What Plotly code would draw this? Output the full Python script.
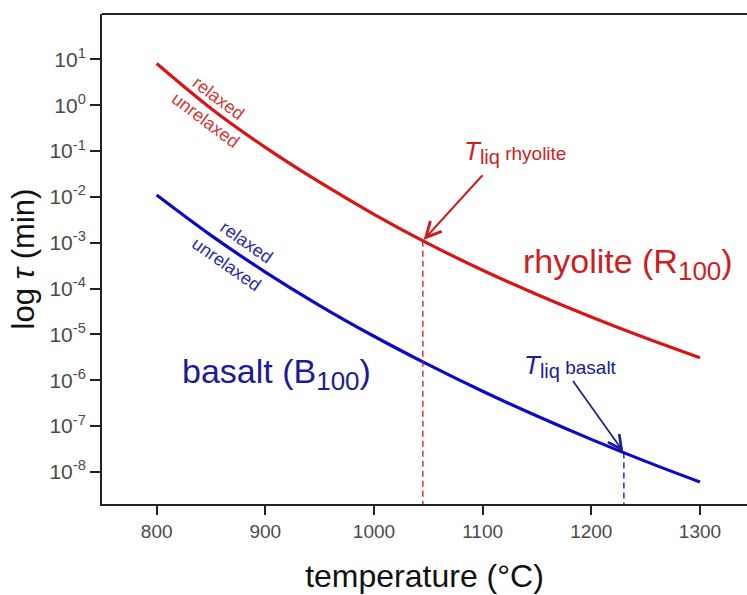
import numpy as np
import plotly.graph_objects as go

# ---- data ----
temperature = [800, 850, 900, 950, 1000, 1050, 1100, 1150, 1200, 1250, 1300]
log_tau_rhyolite = [0.91, -0.07, -0.92, -1.68, -2.38, -3.02, -3.60, -4.13, -4.62, -5.08, -5.51]
log_tau_basalt = [-1.96, -2.84, -3.64, -4.37, -5.04, -5.66, -6.24, -6.78, -7.29, -7.77, -8.22]
t_liq_rhyolite = 1045
t_liq_basalt = 1230
y_tickvals_exp = [1, 0, -1, -2, -3, -4, -5, -6, -7, -8]
x_tickvals = [800, 900, 1000, 1100, 1200, 1300]

RED = "#d81414"
BLUE = "#0a0ac8"
RED_TXT = "#cc1f1f"
BLUE_TXT = "#1c1c96"
FONT = "Liberation Sans, Arial"

W, H = 747, 595
L, T, B, R = 102, 14, 91, 0
PW, PH = W - L - R, H - T - B


def px(x):
    return (x - L) / PW


def py(y):
    return (H - B - y) / PH


tau_r = [10 ** v for v in log_tau_rhyolite]
tau_b = [10 ** v for v in log_tau_basalt]
y_bottom_log = -8.70
y_top_log = 1.99

lr_liq = float(np.interp(t_liq_rhyolite, temperature, log_tau_rhyolite))
lb_liq = float(np.interp(t_liq_basalt, temperature, log_tau_basalt))

fig = go.Figure()
fig.add_trace(go.Scatter(x=temperature, y=tau_r, mode="lines",
                         line=dict(color=RED, width=3.2, shape="spline"),
                         showlegend=False, hoverinfo="skip"))
fig.add_trace(go.Scatter(x=temperature, y=tau_b, mode="lines",
                         line=dict(color=BLUE, width=3.2, shape="spline"),
                         showlegend=False, hoverinfo="skip"))
# dashed liquidus drop lines
fig.add_trace(go.Scatter(x=[t_liq_rhyolite, t_liq_rhyolite], y=[10 ** lr_liq, 10 ** y_bottom_log],
                         mode="lines", line=dict(color=RED, width=1.3, dash="6px,4px"),
                         showlegend=False, hoverinfo="skip"))
fig.add_trace(go.Scatter(x=[t_liq_basalt, t_liq_basalt], y=[10 ** lb_liq, 10 ** y_bottom_log],
                         mode="lines", line=dict(color=BLUE, width=1.3, dash="6px,4px"),
                         showlegend=False, hoverinfo="skip"))

ann = []
# arrows
ann.append(dict(x=t_liq_rhyolite, y=lr_liq, xref="x", yref="y", text="", showarrow=True,
                arrowhead=5, arrowsize=1.5, arrowwidth=2, arrowcolor=RED_TXT,
                ax=61, ay=-67, standoff=1))
ann.append(dict(x=t_liq_basalt, y=lb_liq, xref="x", yref="y", text="", showarrow=True,
                arrowhead=5, arrowsize=1.6, arrowwidth=1.7, arrowcolor=BLUE_TXT,
                ax=-52, ay=-73, standoff=1))


def tliq(name):
    return ('<i><span style="font-size:26px">T</span></i>'
            '<sub><span style="font-size:20px">liq</span></sub> ' + name)


# Tliq labels
ann.append(dict(x=px(515), y=py(152), xref="paper", yref="paper", showarrow=False,
                xanchor="center", yanchor="middle", text=tliq("rhyolite"),
                font=dict(family=FONT, size=19, color=RED_TXT)))
ann.append(dict(x=px(570), y=py(366), xref="paper", yref="paper", showarrow=False,
                xanchor="center", yanchor="middle", text=tliq("basalt"),
                font=dict(family=FONT, size=19, color=BLUE_TXT)))
# big series labels
ann.append(dict(x=px(628), y=py(264), xref="paper", yref="paper", showarrow=False,
                xanchor="center", yanchor="middle",
                text='rhyolite (R<sub><span style="font-size:26px">100</span></sub>)',
                font=dict(family=FONT, size=34, color=RED_TXT)))
ann.append(dict(x=px(276), y=py(374), xref="paper", yref="paper", showarrow=False,
                xanchor="center", yanchor="middle",
                text='basalt (B<sub><span style="font-size:26px">100</span></sub>)',
                font=dict(family=FONT, size=34, color=BLUE_TXT)))
# relaxed / unrelaxed
for txt, cx, cy, ang, col in [("relaxed", 218, 98, 37, "#d23a3a"),
                              ("unrelaxed", 205, 120, 37, "#d23a3a"),
                              ("relaxed", 246, 242, 35, "#2a2aa8"),
                              ("unrelaxed", 226, 264, 35, "#2a2aa8")]:
    ann.append(dict(x=px(cx), y=py(cy), xref="paper", yref="paper", showarrow=False,
                    xanchor="center", yanchor="middle",
                    text=txt, textangle=ang,
                    font=dict(family=FONT, size=18, color=col)))

fig.update_layout(
    width=W, height=H,
    margin=dict(l=L, r=R, t=T, b=B),
    paper_bgcolor="white", plot_bgcolor="white",
    font=dict(family=FONT, color="#333333"),
    annotations=ann,
    shapes=[dict(type="line", xref="paper", yref="paper", x0=0, x1=1, y0=1, y1=1,
                 line=dict(color="#222222", width=2))],
    xaxis=dict(range=[749.7, 1343.3], tickvals=x_tickvals, ticks="outside", ticklen=9,
               tickwidth=1.5, tickcolor="#222222", showline=True, linecolor="#222222",
               linewidth=2, showgrid=False, zeroline=False,
               tickfont=dict(size=19, color="#4a4a4a"),
               title=dict(text="temperature (°C)", font=dict(size=32, color="#111111"), standoff=24)),
    yaxis=dict(type="log", range=[y_bottom_log, y_top_log],
               tickvals=[10 ** e for e in y_tickvals_exp],
               ticktext=[f"10<sup>{e}</sup>" for e in y_tickvals_exp],
               ticks="outside", ticklen=10, tickwidth=1.5, tickcolor="#222222",
               showline=True, linecolor="#222222", linewidth=2, showgrid=False, zeroline=False,
               tickfont=dict(size=21, color="#4a4a4a"),
               title=dict(text="log <i>τ</i> (min)", font=dict(size=31, color="#111111"), standoff=6)),
)

fig.write_html("out.html")
